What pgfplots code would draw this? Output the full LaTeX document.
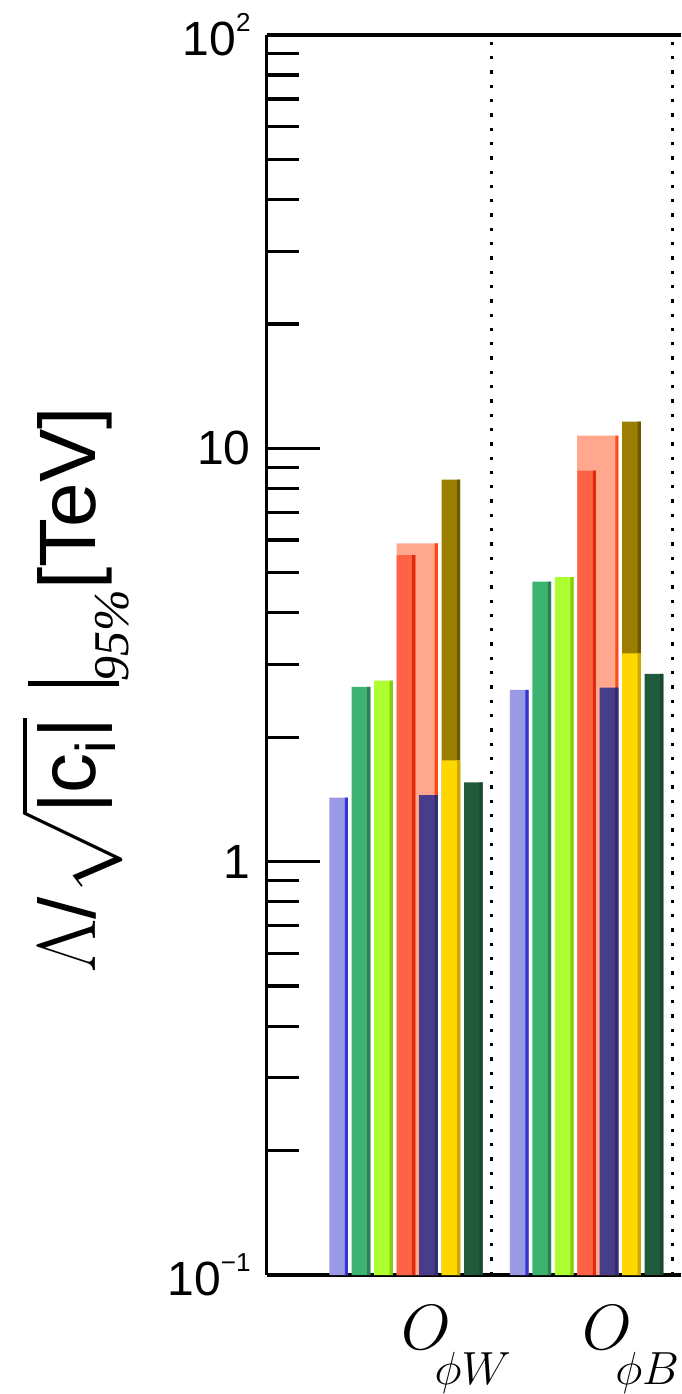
\documentclass[border=0pt]{standalone}
\usepackage{amsmath}
\usepackage{graphicx}
\usepackage{pgfplots}
\pgfplotsset{compat=1.18}
\usepackage{fontspec}
\setmainfont{Liberation Sans}
\newfontfamily\timesf{Liberation Serif}

\definecolor{cLP}{HTML}{9999E6} \definecolor{eLP}{HTML}{3535D5}
\definecolor{cGR}{HTML}{3CB371} \definecolor{eGR}{HTML}{2E8050}
\definecolor{cLI}{HTML}{ADFF2F} \definecolor{eLI}{HTML}{88CC10}
\definecolor{cRE}{HTML}{FF6347} \definecolor{eRE}{HTML}{E02A0A}
\definecolor{cSA}{HTML}{FFA88E} \definecolor{eSA}{HTML}{FF4A14}
\definecolor{cDB}{HTML}{483D8B} \definecolor{eDB}{HTML}{362D6E}
\definecolor{cGO}{HTML}{FFD700} \definecolor{eGO}{HTML}{C9A800}
\definecolor{cOL}{HTML}{9A7E00} \definecolor{eOL}{HTML}{6C5800}
\definecolor{cDG}{HTML}{1F5A3A} \definecolor{eDG}{HTML}{18482E}

\newcommand\expo[1]{\raisebox{12pt}{\fontsize{13}{13}\selectfont #1}}
\newcommand\xl[1]{\scalebox{1.543}{$O$}\kern-8.4pt\raisebox{-17.5pt}{\scalebox{1.12}{$\phi #1$}}}

\pgfplotsset{
  bar/.style={ybar, bar width=0.1035, draw=none, fill=#1},
  edge/.style={ybar, bar width=1.6pt, bar shift=3.875pt, draw=none, fill=#1},
}

\begin{document}
\begin{tikzpicture}
\begin{axis}[
  scale only axis, width=207.15pt, height=620pt,
  xmin=0.2542, xmax=2.548, ymin=0.1, ymax=100,
  ymode=log, log origin=infty,
  axis x line*=box, axis y line*=left,
  axis line style={line width=1.7pt},
  tick align=inside,
  major tick length=26.5pt, minor tick length=16pt,
  every tick/.style={black, line width=1.6pt},
  ytick={0.1,1,10,100},
  minor ytick={0.2,0.3,0.4,0.5,0.6,0.7,0.8,0.9,2,3,4,5,6,7,8,9,20,30,40,50,60,70,80,90},
  yticklabels={10\expo{−1}, 1, 10, 10\expo{2}},
  yticklabel style={font=\fontsize{24}{24}\selectfont, xshift=-4.5pt},
  xtick={1,2}, xticklabels={\xl{W}, \xl{B}},
  xtick style={draw=none},
  xticklabel style={font=\fontsize{20.74}{24}\selectfont, anchor=north west, inner sep=0pt, yshift=-15pt},
  every axis y label/.style={at={(axis description cs:-0.463,0.472)}, rotate=90, anchor=center},
  ylabel={\scalebox{2}{\fontsize{20}{20}\selectfont $\Lambda$/$\sqrt{\text{|c}_{\mathrm{i}}\text{|}}$\hspace{8pt}\rule[-0.29em]{0.06em}{1.14em}\raisebox{-8.25pt}{\fontsize{12.5}{12.5}\selectfont\timesf\itshape 95\%}[TeV]}},
]
% background bars
\addplot[ybar, bar width=0.2287, draw=none, fill=cSA] coordinates {(1.0875,5.89) (2.0875,10.73)};
\addplot[ybar, bar width=1.6pt, bar shift=9.53pt, draw=none, fill=eSA] coordinates {(1.0875,5.89) (2.0875,10.73)};
\addplot[bar=cOL] coordinates {(1.2740,8.40) (2.2740,11.60)};
\addplot[edge=eOL] coordinates {(1.2740,8.40) (2.2740,11.60)};
% front bars
\addplot[bar=cLP] coordinates {(0.6525,1.428) (1.6525,2.603)};
\addplot[edge=eLP] coordinates {(0.6525,1.428) (1.6525,2.603)};
\addplot[bar=cGR] coordinates {(0.7768,2.647) (1.7768,4.76)};
\addplot[edge=eGR] coordinates {(0.7768,2.647) (1.7768,4.76)};
\addplot[bar=cLI] coordinates {(0.9011,2.741) (1.9011,4.88)};
\addplot[edge=eLI] coordinates {(0.9011,2.741) (1.9011,4.88)};
\addplot[bar=cRE] coordinates {(1.0254,5.52) (2.0254,8.83)};
\addplot[edge=eRE] coordinates {(1.0254,5.52) (2.0254,8.83)};
\addplot[bar=cDB] coordinates {(1.1497,1.448) (2.1497,2.636)};
\addplot[edge=eDB] coordinates {(1.1497,1.448) (2.1497,2.636)};
\addplot[bar=cGO] coordinates {(1.2740,1.759) (2.2740,3.19)};
\addplot[edge=eGO] coordinates {(1.2740,1.759) (2.2740,3.19)};
\addplot[bar=cDG] coordinates {(1.3983,1.556) (2.3983,2.845)};
\addplot[edge=eDG] coordinates {(1.3983,1.556) (2.3983,2.845)};
% dotted separators
\addplot[black, line width=1.65pt, dash pattern=on 1.65pt off 5.5pt] coordinates {(1.5,0.1) (1.5,100)};
\addplot[black, line width=1.65pt, dash pattern=on 1.65pt off 5.5pt] coordinates {(2.5,0.1) (2.5,100)};
\end{axis}
\pgfresetboundingbox
\path[use as bounding box] ([xshift=-133.35pt,yshift=-59.5pt]current axis.south west) rectangle ([yshift=17.5pt]current axis.north east);
\end{tikzpicture}
\end{document}
